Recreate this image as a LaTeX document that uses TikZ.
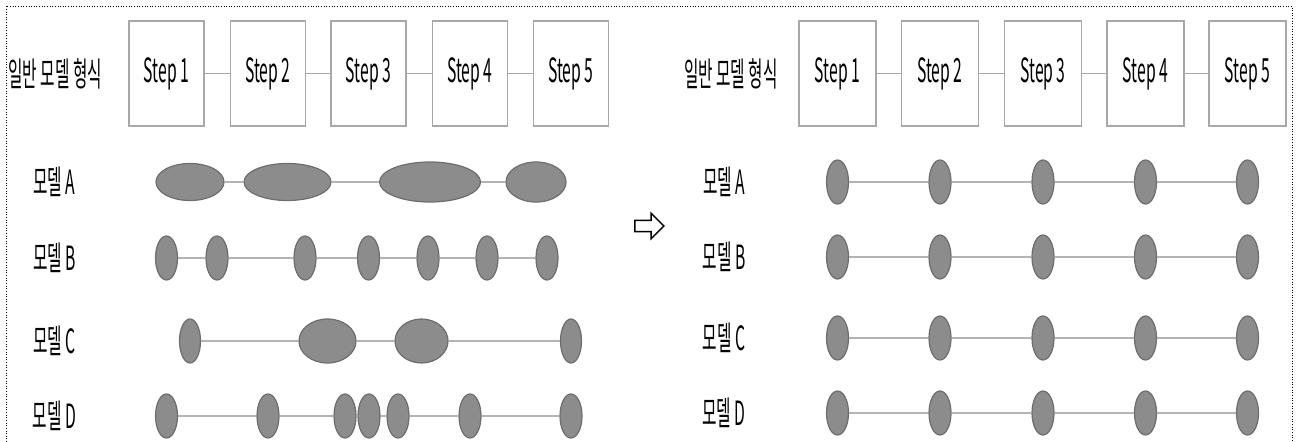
\documentclass[tikz,border=0pt]{standalone}
\usepackage{fontspec}
\setmainfont{Noto Sans CJK KR}[FakeStretch=0.47]
\usetikzlibrary{shapes.geometric,shapes.arrows}
\definecolor{boxline}{HTML}{A8A8A8}
\definecolor{blobfill}{HTML}{8C8C8C}
\definecolor{blobline}{HTML}{6E6E6E}
\definecolor{linkline}{HTML}{B4B4B4}
\tikzset{
    stepbox/.style={
        draw=boxline, line width=0.7pt,
        minimum width=1.5cm, minimum height=2.1cm, inner sep=0pt,
        font=\fontsize{19}{21}\selectfont
    },
    rowlabel/.style={inner sep=0pt, font=\fontsize{19}{21}\selectfont},
    blob/.style={
        ellipse, draw=blobline, fill=blobfill, line width=0.7pt, inner sep=0pt,
        minimum width=0.44cm, minimum height=0.88cm
    },
    link/.style={draw=linkline, line width=0.7pt},
    steplink/.style={draw=boxline, line width=0.7pt}
}

\begin{document}
\begin{tikzpicture}[x=0.02cm, y=-0.02cm]
    \useasboundingbox (0,0) rectangle (1297,442);
    \draw[densely dotted, line width=0.5pt] (6,442) -- (6,6) -- (1292,6) -- (1292,442);

    % left: before
    \node[rowlabel, anchor=west] (genl) at (8,74) {일반 모델 형식};
    \foreach \i/\x in {1/166.5,2/268,3/368.5,4/470,5/571}
        \node[stepbox] (ls\i) at (\x,73.5) {Step \i};
    \foreach \i/\j in {1/2,2/3,3/4,4/5}
        \draw[steplink] (ls\i) -- (ls\j);
    \foreach \r/\y in {A/182,B/258,C/341,D/416}
        \node[rowlabel] (lm\r) at (54.5,\y) {모델 \r};

    \foreach \k/\x/\w/\h in {1/190/68/37,2/287.5/87/37,3/430/101/40,4/536/60/40}
        \node[blob, minimum width=\w*0.02cm, minimum height=\h*0.02cm] (la\k) at (\x,182) {};
    \foreach \i/\j in {1/2,2/3,3/4}
        \draw[link] (la\i) -- (la\j);

    \foreach \k/\x in {1/166.5,2/217,3/305,4/368.5,5/428,6/487,7/547}
        \node[blob] (lb\k) at (\x,258) {};
    \foreach \i/\j in {1/2,2/3,3/4,4/5,5/6,6/7}
        \draw[link] (lb\i) -- (lb\j);

    \foreach \k/\x/\w in {1/190/21,2/327.5/57,3/421.5/53,4/571/21}
        \node[blob, minimum width=\w*0.02cm] (lc\k) at (\x,341) {};
    \foreach \i/\j in {1/2,2/3,3/4}
        \draw[link] (lc\i) -- (lc\j);

    \foreach \k/\x in {1/166.5,2/268,3/345,4/369,5/398,6/470,7/571}
        \node[blob] (ld\k) at (\x,416) {};
    \foreach \i/\j in {1/2,2/3,3/4,4/5,5/6,6/7}
        \draw[link] (ld\i) -- (ld\j);

    % arrow
    \node[single arrow, draw, line width=0.8pt, inner sep=0.1cm,
          minimum height=0.58cm, single arrow head extend=0.14cm] (arr) at (646.5,226) {};

    % right: after
    \node[rowlabel] (genr) at (731,74) {일반 모델 형식};
    \foreach \i/\x in {1/837.5,2/940,3/1043,4/1145.5,5/1247.5}
        \node[stepbox, minimum width=1.54cm] (rs\i) at (\x,73.5) {Step \i};
    \foreach \i/\j in {1/2,2/3,3/4,4/5}
        \draw[steplink] (rs\i) -- (rs\j);
    \foreach \r/\y in {A/182,B/257,C/338,D/413} {
        \node[rowlabel] (rm\r) at (724,\y) {모델 \r};
        \foreach \k/\x in {1/837.5,2/940,3/1043,4/1145.5,5/1247.5}
            \node[blob] (r\r\k) at (\x,\y) {};
        \foreach \i/\j in {1/2,2/3,3/4,4/5}
            \draw[link] (r\r\i) -- (r\r\j);
    }
\end{tikzpicture}
\end{document}
